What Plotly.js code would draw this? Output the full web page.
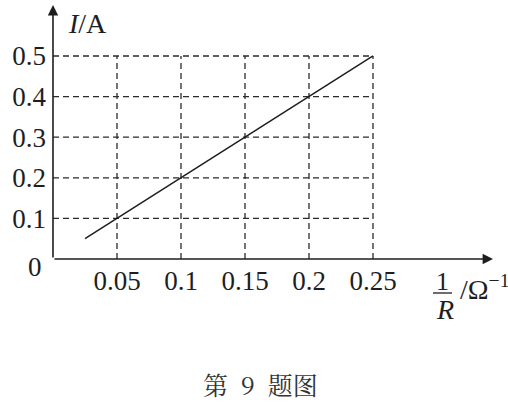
<!DOCTYPE html>
<html>
<head>
<meta charset="utf-8">
<script src="https://cdn.plot.ly/plotly-3.0.1.min.js"></script>
<style>html,body{margin:0;padding:0;background:#fff;}#chart{width:508px;height:402px;}</style>
</head>
<body>
<div id="chart"></div>
<script>
// Data
const xTicks = [0.05, 0.1, 0.15, 0.2, 0.25];
const xTickLabels = ["0.05", "0.1", "0.15", "0.2", "0.25"];
const yTicks = [0.1, 0.2, 0.3, 0.4, 0.5];
const yTickLabels = ["0.1", "0.2", "0.3", "0.4", "0.5"];
const lineX = [0.025, 0.25];   // 1/R (Ω^-1)
const lineY = [0.05, 0.5];     // I (A)
const captionText = "第\u00A0\u00A09\u00A0\u00A0题图";

// Layout constants (pixels)
const W = 508, H = 402;
const M = {l: 53, r: 15, t: 5, b: 143};
const pw = W - M.l - M.r, ph = H - M.t - M.b;
const xMax = 0.34375, yMax = 0.6256;
const px = v => (v - M.l) / pw;           // pixel x -> paper
const py = v => (H - M.b - v) / ph;       // pixel y -> paper
const serif = "Liberation Serif, Times New Roman, serif";
const ink = "#1e1e1e";
const fs = 27;

// Dashed grid built from tick arrays
const gx = [], gy = [];
const xEnd = Math.max(...xTicks), yEnd = Math.max(...yTicks);
yTicks.forEach(y => { gx.push(0, xEnd, null); gy.push(y, y, null); });
xTicks.forEach(x => { gx.push(x, x, null); gy.push(0, yEnd, null); });

const traces = [
  {x: gx, y: gy, mode: "lines", line: {color: "#2a2a2a", width: 1.3, dash: "6px,4px"}, hoverinfo: "skip", showlegend: false},
  {x: lineX, y: lineY, mode: "lines", line: {color: ink, width: 1.5}, showlegend: false}
];

const layout = {
  width: W, height: H, margin: M,
  paper_bgcolor: "#fff", plot_bgcolor: "#fff",
  showlegend: false,
  xaxis: {range: [0, xMax], showgrid: false, zeroline: false, showline: false,
          tickvals: xTicks, ticktext: xTickLabels, ticks: "", ticklabelstandoff: 3,
          tickfont: {family: serif, size: fs, color: ink}, fixedrange: true},
  yaxis: {range: [0, yMax], showgrid: false, zeroline: false, showline: false,
          tickvals: yTicks, ticktext: yTickLabels, ticks: "", ticklabelstandoff: 6,
          tickfont: {family: serif, size: fs, color: ink}, fixedrange: true},
  shapes: [
    {type: "line", xref: "paper", yref: "paper", x0: px(433), x1: px(452), y0: py(293), y1: py(293),
     line: {color: ink, width: 1.3}}
  ],
  annotations: [
    // axes with arrows
    {xref: "x", yref: "y", axref: "x", ayref: "y", x: xMax, y: 0, ax: 0, ay: 0, text: "",
     showarrow: true, arrowhead: 2, arrowsize: 1.3, arrowwidth: 1.6, arrowcolor: ink, standoff: 0},
    {xref: "x", yref: "y", axref: "x", ayref: "y", x: 0, y: yMax, ax: 0, ay: 0, text: "",
     showarrow: true, arrowhead: 2, arrowsize: 1.3, arrowwidth: 1.6, arrowcolor: ink, standoff: 0},
    {xref: "paper", yref: "paper", x: px(35), y: py(267), text: "0", showarrow: false,
     xanchor: "center", yanchor: "middle", font: {family: serif, size: fs, color: ink}},
    {xref: "paper", yref: "paper", x: px(66), y: py(24), text: "<i>I</i>/A", showarrow: false,
     xanchor: "left", yanchor: "middle", font: {family: serif, size: 28, color: ink}},
    {xref: "paper", yref: "paper", x: px(442), y: py(281), text: "1", showarrow: false,
     xanchor: "center", yanchor: "middle", font: {family: serif, size: 26, color: ink}},
    {xref: "paper", yref: "paper", x: px(445), y: py(309), text: "<i>R</i>", showarrow: false,
     xanchor: "center", yanchor: "middle", font: {family: serif, size: 28, color: ink}},
    {xref: "paper", yref: "paper", x: px(458), y: py(287), text: "/Ω<sup>−1</sup>", showarrow: false,
     xanchor: "left", yanchor: "middle", font: {family: serif, size: 28, color: ink}},
    {xref: "paper", yref: "paper", x: px(260), y: py(384), text: captionText, showarrow: false,
     xanchor: "center", yanchor: "middle",
     font: {family: "Noto Serif CJK SC, Noto Sans CJK SC, serif", size: 25, color: "#333"}}
  ]
};

Plotly.newPlot("chart", traces, layout, {displayModeBar: false, staticPlot: true});
</script>
</body>
</html>
